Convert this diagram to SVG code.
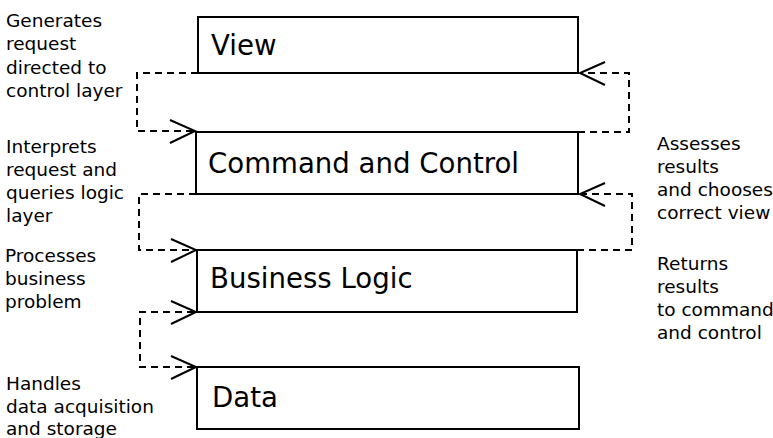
<svg xmlns="http://www.w3.org/2000/svg" width="773" height="438" viewBox="0 0 773 438">
<style>
  .box { fill: #fff; stroke: #000; stroke-width: 2; }
  .lbl { font-family: "DejaVu Sans", sans-serif; font-size: 27.6px; fill: #000; }
  .note { font-family: "DejaVu Sans", sans-serif; font-size: 18.5px; fill: #000; }
  .dash { fill: none; stroke: #000; stroke-width: 2; stroke-dasharray: 7 5; }
  .head { fill: none; stroke: #000; stroke-width: 2; }
</style>
<rect width="773" height="438" fill="#fff"/>
<g id="view">
  <rect class="box" x="198" y="17" width="380" height="56"/>
  <text class="lbl" x="211" y="55">View</text>
</g>
<g id="command-and-control">
  <rect class="box" x="196" y="132" width="382" height="62"/>
  <text class="lbl" x="208" y="173">Command and Control</text>
</g>
<g id="business-logic">
  <rect class="box" x="197" y="250" width="380" height="62"/>
  <text class="lbl" x="210" y="288">Business Logic</text>
</g>
<g id="data">
  <rect class="box" x="197" y="367" width="382" height="62"/>
  <text class="lbl" x="212" y="407">Data</text>
</g>
<g id="connectors">
  <path class="dash" d="M198,73 H137 V131 H194"/>
  <path class="head" d="M170,120 L195,131 L170,143"/>
  <path class="dash" d="M196,194 H139 V250 H194"/>
  <path class="head" d="M171,239 L196,250 L171,262"/>
  <path class="dash" d="M194,312 H140 V367 H194"/>
  <path class="head" d="M171,301 L196,312 L171,324"/>
  <path class="head" d="M171,356 L196,367 L171,379"/>
  <path class="dash" d="M578,132 H629 V73 H582"/>
  <path class="head" d="M605,62 L580,73 L605,85"/>
  <path class="dash" d="M577,250 H632 V194 H582"/>
  <path class="head" d="M605,183 L580,194 L605,206"/>
</g>
<g id="notes">
  <text class="note" x="6" y="27">Generates</text>
  <text class="note" x="6" y="50">request</text>
  <text class="note" x="6" y="74">directed to</text>
  <text class="note" x="6" y="97">control layer</text>
  <text class="note" x="6" y="153">Interprets</text>
  <text class="note" x="6" y="176">request and</text>
  <text class="note" x="6" y="199">queries logic</text>
  <text class="note" x="6" y="222">layer</text>
  <text class="note" x="5" y="262">Processes</text>
  <text class="note" x="5" y="285">business</text>
  <text class="note" x="5" y="308">problem</text>
  <text class="note" x="6" y="390">Handles</text>
  <text class="note" x="6" y="413">data acquisition</text>
  <text class="note" x="6" y="435">and storage</text>
  <text class="note" x="657" y="150">Assesses</text>
  <text class="note" x="657" y="173">results</text>
  <text class="note" x="657" y="196">and chooses</text>
  <text class="note" x="657" y="219">correct view</text>
  <text class="note" x="657" y="270">Returns</text>
  <text class="note" x="657" y="293">results</text>
  <text class="note" x="657" y="316">to command</text>
  <text class="note" x="657" y="339">and control</text>
</g>
</svg>
